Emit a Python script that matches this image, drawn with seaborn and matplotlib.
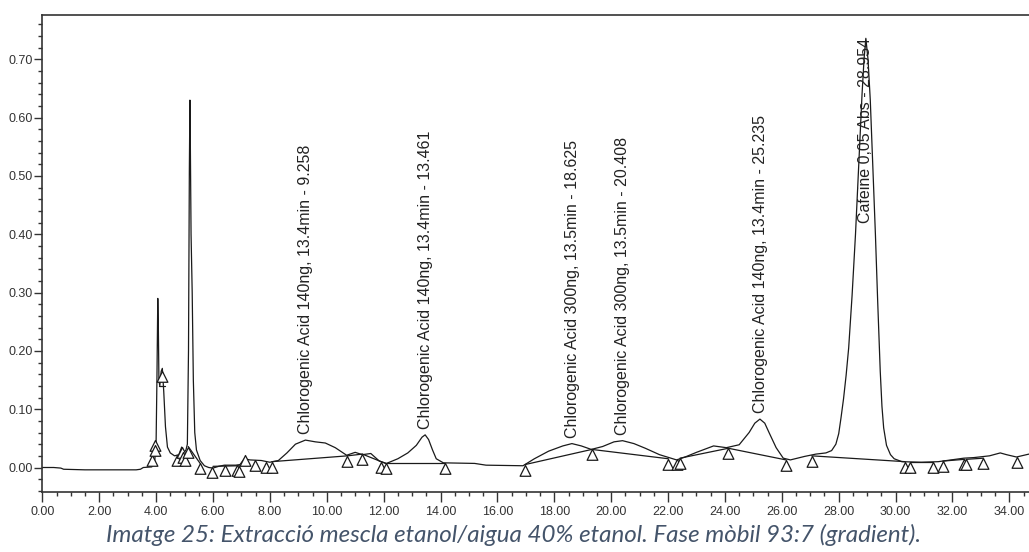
import numpy as np
import matplotlib
matplotlib.use("Agg")
import matplotlib.pyplot as plt
from matplotlib.path import Path
from matplotlib.ticker import MultipleLocator, FormatStrFormatter
import seaborn as sns
import pandas as pd

# Chromatogram trace: retention time (min) and absorbance (AU)
time_min = [
    0.00, 0.40, 0.65, 0.75, 1.50, 3.30, 3.45, 3.55, 3.85, 3.95,
    4.00, 4.03, 4.06, 4.08, 4.10, 4.13, 4.18, 4.22, 4.27, 4.33,
    4.40, 4.50, 4.65, 4.80, 4.90, 4.97, 5.05, 5.10, 5.14, 5.17,
    5.19, 5.205, 5.23, 5.27, 5.31, 5.36, 5.42, 5.55, 5.70, 5.85,
    6.00, 6.20, 6.40, 6.80, 6.95, 7.10, 7.30, 7.70, 8.00, 8.30,
    8.60, 8.90, 9.25, 9.60, 9.95, 10.30, 10.70, 11.00, 11.25, 11.55,
    11.85, 12.10, 12.50, 12.85, 13.15, 13.35, 13.46, 13.58, 13.72, 13.85,
    14.10, 15.20, 15.60, 16.90, 17.30, 17.80, 18.30, 18.62, 18.95, 19.30,
    19.70, 20.10, 20.40, 20.80, 21.20, 21.70, 22.30, 22.60, 23.00, 23.60,
    24.05, 24.50, 24.85, 25.05, 25.23, 25.40, 25.55, 25.80, 26.05, 26.30,
    26.80, 27.20, 27.55, 27.75, 27.90, 28.00, 28.08, 28.17, 28.26, 28.35,
    28.47, 28.59, 28.70, 28.82, 28.89, 28.954, 29.03, 29.11, 29.20, 29.29,
    29.37, 29.46, 29.52, 29.58, 29.68, 29.82, 29.95, 30.22, 30.90, 31.50,
    32.10, 32.40, 32.75, 33.30, 33.68, 33.90, 34.25, 34.69,
]
absorbance = [
    0.000, 0.000, -0.001, -0.003, -0.004, -0.004, -0.003, 0.000, 0.001, 0.010,
    0.040, 0.150, 0.290, 0.240, 0.150, 0.140, 0.165, 0.170, 0.130, 0.070,
    0.035, 0.025, 0.020, 0.022, 0.035, 0.025, 0.030, 0.040, 0.200, 0.510,
    0.630, 0.555, 0.400, 0.300, 0.150, 0.060, 0.030, 0.012, 0.003, 0.000,
    -0.001, 0.002, 0.004, 0.004, 0.005, 0.015, 0.013, 0.012, 0.009, 0.012,
    0.025, 0.040, 0.047, 0.044, 0.042, 0.034, 0.021, 0.026, 0.022, 0.024,
    0.011, 0.007, 0.015, 0.025, 0.038, 0.052, 0.056, 0.048, 0.030, 0.015,
    0.008, 0.007, 0.004, 0.003, 0.015, 0.028, 0.037, 0.041, 0.037, 0.031,
    0.036, 0.044, 0.046, 0.041, 0.033, 0.022, 0.013, 0.018, 0.026, 0.037,
    0.034, 0.039, 0.060, 0.076, 0.083, 0.076, 0.060, 0.034, 0.016, 0.013,
    0.019, 0.023, 0.025, 0.029, 0.040, 0.058, 0.085, 0.118, 0.158, 0.205,
    0.295, 0.400, 0.515, 0.640, 0.700, 0.736, 0.700, 0.630, 0.515, 0.400,
    0.285, 0.165, 0.105, 0.068, 0.038, 0.022, 0.015, 0.010, 0.009, 0.010,
    0.014, 0.016, 0.017, 0.020, 0.025, 0.022, 0.018, 0.023,
]

# Integration baselines (segments between peak start/end marks)
baseline_start_t = [4.10, 5.13, 6.00, 8.07, 10.73, 11.25, 12.07, 16.97, 19.32, 22.42, 24.12, 27.05, 30.49, 31.66, 32.48]
baseline_start_a = [0.140, 0.036, 0.002, 0.010, 0.020, 0.023, 0.007, 0.005, 0.031, 0.016, 0.033, 0.020, 0.010, 0.011, 0.014]
baseline_end_t = [4.33, 5.55, 6.93, 10.73, 11.25, 12.07, 14.16, 19.32, 22.01, 24.12, 26.15, 30.33, 31.30, 32.42, 33.09]
baseline_end_a = [0.140, 0.007, 0.003, 0.020, 0.023, 0.007, 0.007, 0.031, 0.015, 0.033, 0.013, 0.010, 0.010, 0.014, 0.016]

# Peak start/end marks (triangles hanging under the trace)
mark_t = [3.85, 3.96, 3.97, 4.20, 4.72, 4.90, 4.93, 5.02, 5.13, 5.55,
          5.98, 6.43, 6.83, 6.93, 7.13, 7.48, 7.87, 8.07, 10.73, 11.25,
          11.90, 12.07, 14.16, 16.97, 19.32, 22.01, 22.30, 22.42, 24.12, 26.15,
          27.05, 30.33, 30.49, 31.30, 31.66, 32.42, 32.48, 33.09, 34.28]
mark_a = [0.022, 0.047, 0.039, 0.165, 0.022, 0.036, 0.027, 0.022, 0.036, 0.007,
          0.001, 0.005, 0.005, 0.003, 0.022, 0.013, 0.010, 0.010, 0.020, 0.023,
          0.009, 0.007, 0.007, 0.005, 0.031, 0.015, 0.015, 0.016, 0.033, 0.013,
          0.020, 0.010, 0.010, 0.010, 0.011, 0.014, 0.014, 0.016, 0.018]

# Identified peaks
peak_t = [9.258, 13.461, 18.625, 20.408, 25.235]
peak_a = [0.047, 0.056, 0.041, 0.046, 0.083]
peak_names = [
    "Chlorogenic Acid 140ng, 13.4min - 9.258",
    "Chlorogenic Acid 140ng, 13.4min - 13.461",
    "Chlorogenic Acid 300ng, 13.5min - 18.625",
    "Chlorogenic Acid 300ng, 13.5min - 20.408",
    "Chlorogenic Acid 140ng, 13.4min - 25.235",
]
caffeine_t = 28.954
caffeine_a = 0.736
caffeine_name = "Cafeine 0,05 Abs - 28.954"

caption = "Imatge 25: Extracció mescla etanol/aigua 40% etanol. Fase mòbil 93:7 (gradient)."

sns.set_style("white")
plt.rcParams["font.family"] = ["Liberation Sans", "DejaVu Sans"]

fig = plt.figure(figsize=(10.29, 5.52), dpi=100)
ax = fig.add_axes([42.3 / 1029, 1 - 491.7 / 552, 1 - 42.3 / 1029, (491.7 - 15) / 552])

ink = "#1a1a1a"
trace = pd.DataFrame({"t": time_min, "a": absorbance})
sns.lineplot(data=trace, x="t", y="a", ax=ax, sort=False, estimator=None,
             color=ink, linewidth=0.9)

for t0, a0, t1, a1 in zip(baseline_start_t, baseline_start_a, baseline_end_t, baseline_end_a):
    ax.plot([t0, t1], [a0, a1], color=ink, linewidth=0.9)

# triangle whose apex sits on the data point
tri = Path([(0, 0), (-0.5, -1.0), (0.5, -1.0), (0, 0)],
           [Path.MOVETO, Path.LINETO, Path.LINETO, Path.CLOSEPOLY])
ax.plot(mark_t, mark_a, linestyle="none", marker=tri, markersize=15.5,
        markerfacecolor="white", markeredgecolor=ink, markeredgewidth=0.9)

for t, a, name in zip(peak_t, peak_a, peak_names):
    ax.text(t, a + 0.010, name, rotation=90, ha="center", va="bottom",
            fontsize=11.5, color="#222222")
ax.text(caffeine_t, caffeine_a, caffeine_name, rotation=90, ha="center", va="top",
        fontsize=11.5, color="#222222")

ax.set_xlim(0, 34.69)
ax.set_ylim(-0.0415, 0.776)
ax.set_xlabel("")
ax.set_ylabel("")
ax.xaxis.set_major_locator(MultipleLocator(2))
ax.xaxis.set_minor_locator(MultipleLocator(0.5))
ax.yaxis.set_major_locator(MultipleLocator(0.1))
ax.yaxis.set_minor_locator(MultipleLocator(0.02))
ax.xaxis.set_major_formatter(FormatStrFormatter("%.2f"))
ax.yaxis.set_major_formatter(FormatStrFormatter("%.2f"))
ax.set_yticks([0.0, 0.1, 0.2, 0.3, 0.4, 0.5, 0.6, 0.7])
ax.tick_params(axis="both", which="major", direction="out", length=6, width=1,
               color="#333333", labelsize=9, labelcolor="#333333")
ax.tick_params(axis="x", which="major", length=7, pad=3)
ax.tick_params(axis="y", which="major", pad=1)
ax.tick_params(axis="both", which="minor", direction="out", length=3, width=1, color="#333333")
ax.tick_params(bottom=True, left=True, which="both")
for side in ("left", "top", "bottom"):
    ax.spines[side].set_color("#333333")
    ax.spines[side].set_linewidth(1.2)
ax.spines["right"].set_visible(False)

cap = fig.text(514 / 1029, 1 - 535 / 552, caption, ha="center", va="center",
               fontsize=13, style="italic", color="#44546A",
               family=["Lato", "DejaVu Sans"])
fig.canvas.draw()
w = cap.get_window_extent().width
cap.set_fontsize(13 * 815 / w)

fig.savefig("out.png", dpi=100)
